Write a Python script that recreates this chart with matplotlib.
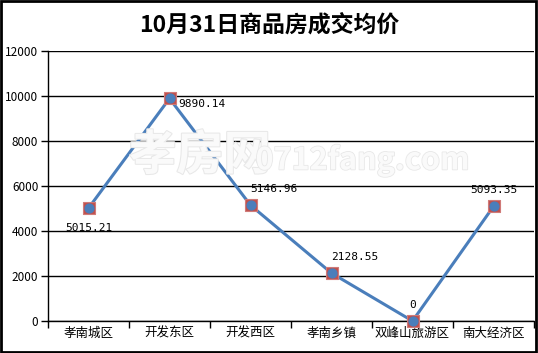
import matplotlib
matplotlib.use("Agg")
import matplotlib.pyplot as plt
import matplotlib.patheffects as pe

plt.rcParams["font.family"] = ["Noto Sans CJK SC", "DejaVu Sans"]

# data
districts = ["孝南城区", "开发东区", "开发西区", "孝南乡镇", "双峰山旅游区", "南大经济区"]
prices = [5015.21, 9890.14, 5146.96, 2128.55, 0, 5093.35]
yticks = [0, 2000, 4000, 6000, 8000, 10000, 12000]
title = "10月31日商品房成交均价"

# label placement (offset in points, horizontal alignment)
label_pos = [((0, -14), "center"), ((6, -4), "left"), ((0, 8), "left"),
             ((0, 8), "left"), ((0, 8), "center"), ((0, 8), "center")]

fig = plt.figure(figsize=(5.38, 3.53), dpi=100)
ax = fig.add_axes([48 / 538, 32 / 353, 486 / 538, 270 / 353])

xs = [i + 0.5 for i in range(len(districts))]

# faint watermark
fig.text(0.24, 0.52, "孝房网", fontsize=34, color="#fafafa", fontweight="bold",
         path_effects=[pe.withStroke(linewidth=1.5, foreground="#e8e8e8")], zorder=0)
fig.text(0.475, 0.52, "0712fang.com", fontsize=22, color="#fafafa", fontweight="bold",
         path_effects=[pe.withStroke(linewidth=1.2, foreground="#e8e8e8")], zorder=0)

ax.plot(xs, prices, color="#4a7ebb", lw=2.2, zorder=3)
ax.scatter(xs, prices, marker="s", s=75, color="#c0504d", edgecolors="#d07a78",
           linewidths=0.8, zorder=4, clip_on=False)
ax.scatter(xs, prices, marker="o", s=40, color="#4a7ebb", zorder=5, clip_on=False)

for x, v, (off, ha) in zip(xs, prices, label_pos):
    txt = f"{v:.2f}" if v else "0"
    ax.annotate(txt, (x, v), xytext=off, textcoords="offset points", ha=ha,
                va="bottom" if off[1] > 0 else "center", fontsize=8,
                family=["DejaVu Sans Mono"], color="black", zorder=6)

ax.set_xlim(0, len(districts))
ax.set_ylim(0, 12000)
ax.set_yticks(yticks)
ax.set_yticklabels([str(t) for t in yticks], fontsize=8.5)
ax.set_xticks(range(len(districts) + 1))
ax.set_xticklabels([])
ax.set_xticks(xs, minor=True)
ax.set_xticklabels(districts, minor=True, fontsize=9)
ax.tick_params(axis="x", which="minor", length=0, pad=4)
ax.tick_params(axis="x", which="major", length=5, direction="out", width=1)
ax.tick_params(axis="y", length=5, direction="out", width=1, pad=2)
ax.yaxis.grid(True, color="black", lw=1)
ax.set_axisbelow(True)
for s in ["top", "right"]:
    ax.spines[s].set_visible(False)
for s in ["left", "bottom"]:
    ax.spines[s].set_color("black")
    ax.spines[s].set_linewidth(1)
ax.patch.set_alpha(0)

fig.text(0.5, 0.93, title, ha="center", va="center", fontsize=16.5,
         fontweight="bold", family=["Noto Sans CJK SC"])

# outer frame
fig.add_artist(plt.Rectangle((0.002, 0.003), 0.995, 0.994, transform=fig.transFigure,
                             fill=False, edgecolor="black", lw=2))

fig.savefig("out.png", dpi=100)
